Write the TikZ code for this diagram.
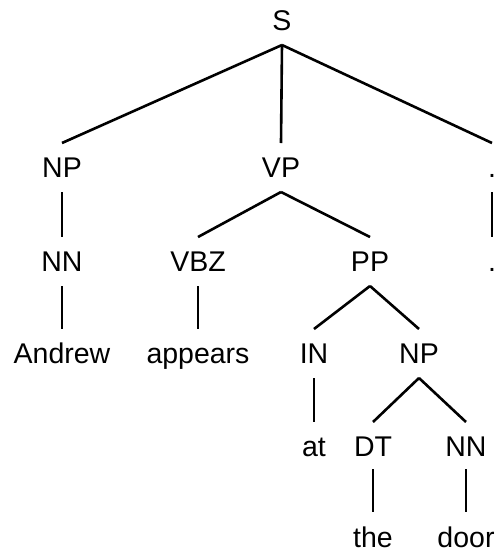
\documentclass[tikz,border=0pt]{standalone}
\usepackage{fontspec}
\setmainfont{Liberation Sans}
\begin{document}
\begin{tikzpicture}[x=1pt,y=-1pt,
  lbl/.style={anchor=base, inner sep=0pt, font=\fontsize{28.5}{30}\selectfont},
  edge/.style={line width=2.6pt, black}]
\useasboundingbox (0,0) rectangle (496,550);
% row 0
\node[lbl] (S) at (282,30) {S};
% row 1
\node[lbl] (np1) at (62,177) {NP};
\node[lbl] (vp) at (281,177) {VP};
\node[lbl] (dot1) at (492,177) {.};
% row 2
\node[lbl] (nn1) at (62,271) {NN};
\node[lbl] (vbz) at (198,271) {VBZ};
\node[lbl] (pp) at (370,271) {PP};
\node[lbl] (dot2) at (492,271) {.};
% row 3
\node[lbl] (andrew) at (62,363) {Andrew};
\node[lbl] (appears) at (198,363) {appears};
\node[lbl] (in) at (314,363) {IN};
\node[lbl] (np2) at (419,363) {NP};
% row 4
\node[lbl] (at) at (314,456) {at};
\node[lbl] (dt) at (373,456) {DT};
\node[lbl] (nn2) at (466,456) {NN};
% row 5
\node[lbl] (the) at (373,547) {the};
\node[lbl] (door) at (466,547) {door};
% edges
\foreach \p/\c in {S/np1,S/vp,S/dot1,np1/nn1,vp/vbz,vp/pp,dot1/dot2,
  nn1/andrew,vbz/appears,pp/in,pp/np2,in/at,np2/dt,np2/nn2}
  \draw[edge] ([yshift=-15pt]\p.base) -- ([yshift=34pt]\c.base);
\foreach \p/\c in {dt/the,nn2/door}
  \draw[edge] ([yshift=-13pt]\p.base) -- ([yshift=35pt]\c.base);
\end{tikzpicture}
\end{document}
